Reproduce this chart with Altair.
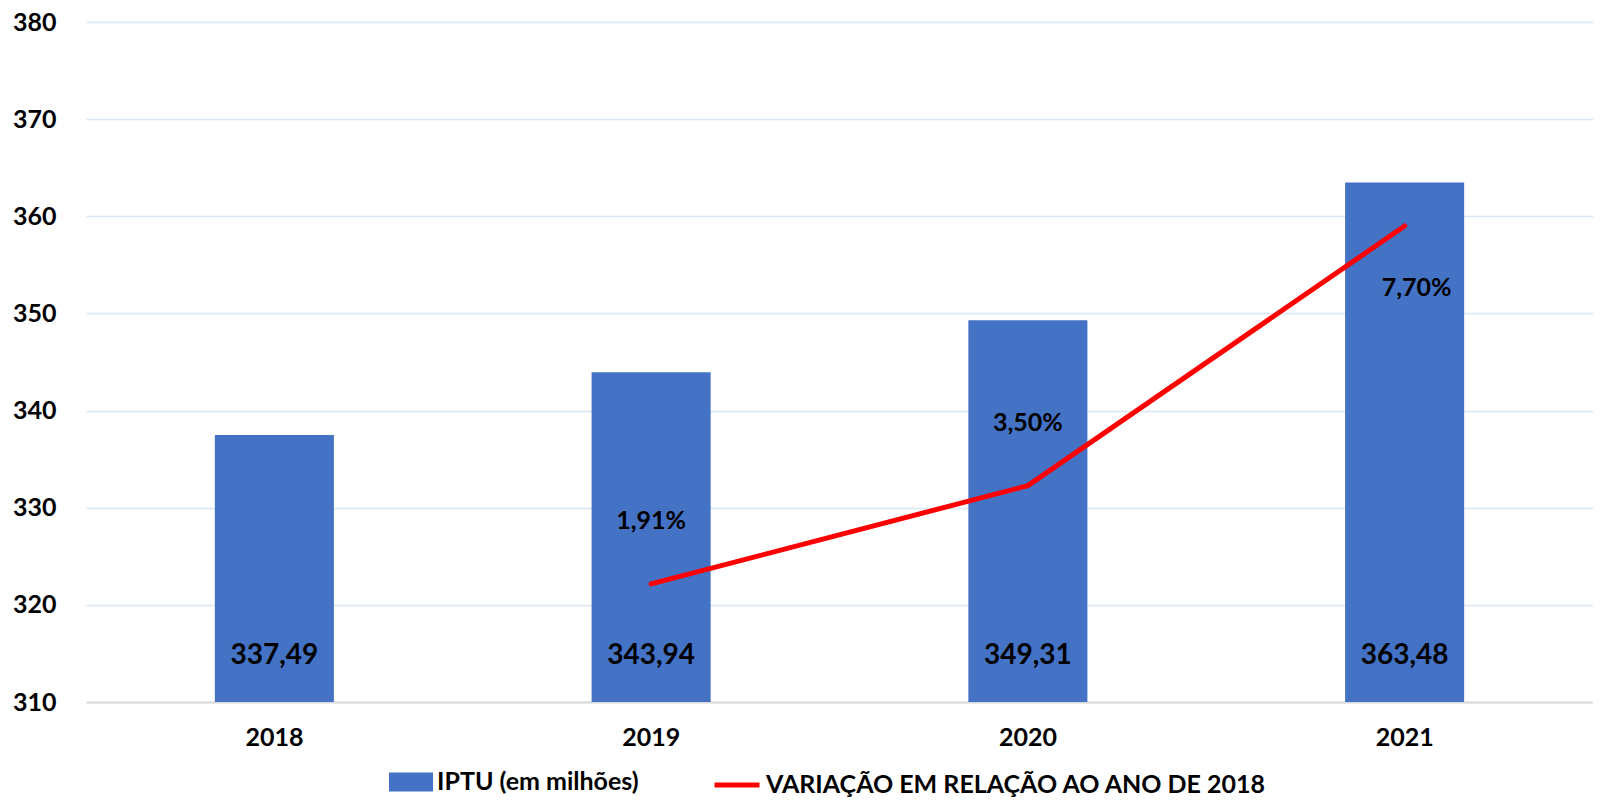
import altair as alt
import pandas as pd

years = ["2018", "2019", "2020", "2021"]
iptu = [337.49, 343.94, 349.31, 363.48]
variacao = [None, 1.91, 3.50, 7.70]
y_ticks = [310, 320, 330, 340, 350, 360, 370, 380]

bar_name = "IPTU (em milhões)"
line_name = "VARIAÇÃO EM RELAÇÃO AO ANO DE 2018"

df = pd.DataFrame({"ano": years, "iptu": iptu, "var": variacao})

FONT = "Lato"
BLUE = "#4472C4"
RED = "#FF0000"
GRID = "#dae6f3"

base = alt.Chart(df).transform_calculate(
    serie_bar=f"'{bar_name}'",
    serie_line=f"'{line_name}'",
    lbl_iptu="replace(format(datum.iptu, '.2f'), '.', ',')",
    lbl_var="isValid(datum.var) ? replace(format(datum.var, '.2f'), '.', ',') + '%' : ''",
)

x = alt.X(
    "ano:N", title=None, sort=years,
    scale=alt.Scale(paddingInner=0.684, paddingOuter=0.342),
    axis=alt.Axis(labelAngle=0, labelFont=FONT, labelFontSize=25, labelFontWeight="bold",
                  labelColor="black", labelPadding=23, ticks=False, domain=True,
                  domainColor="#d9d9d9", domainWidth=2),
)

yscale = alt.Scale(domain=[310, 380], zero=False, nice=False)

legend_common = dict(title=None, orient="none", labelFont=FONT, labelFontSize=25,
                     labelFontWeight="bold", labelColor="black", labelOffset=4,
                     labelLimit=0, padding=0)

bars = base.mark_bar().encode(
    x=x,
    y=alt.Y("iptu:Q", scale=yscale, title=None,
            axis=alt.Axis(values=y_ticks, labelFont=FONT, labelFontSize=25, labelFontWeight="bold",
                          labelColor="black", labelPadding=30, ticks=False, domain=False,
                          grid=True, gridColor=GRID, gridWidth=1.5)),
    y2=alt.datum(310),
    fill=alt.Fill("serie_bar:N", scale=alt.Scale(domain=[bar_name], range=[BLUE]),
                  legend=alt.Legend(legendX=303, legendY=738,
                                    symbolType="M-1,-0.43H1V0.43H-1Z", symbolSize=1936,
                                    symbolStrokeWidth=0, **legend_common)),
)

bar_labels = base.mark_text(font=FONT, fontSize=28, fontWeight="bold", color="black",
                            baseline="middle", dy=-46).encode(
    x=alt.X("ano:N", sort=years),
    y=alt.datum(310),
    text="lbl_iptu:N",
)

left = alt.layer(bars, bar_labels)

yscale2 = alt.Scale(domain=[0, 11], zero=True, nice=False)

line = base.mark_line(strokeWidth=5, strokeCap="round").encode(
    x=alt.X("ano:N", sort=years),
    y=alt.Y("var:Q", scale=yscale2, axis=None),
    stroke=alt.Stroke("serie_line:N", scale=alt.Scale(domain=[line_name], range=[RED]),
                      legend=alt.Legend(legendX=626, legendY=738,
                                        symbolType="stroke", symbolSize=2025,
                                        symbolStrokeWidth=5, **legend_common)),
)

lbl_up = base.transform_filter("isValid(datum.var) && datum.var < 5").mark_text(
    font=FONT, fontSize=25, fontWeight="bold", color="black", baseline="middle", dy=-63
).encode(
    x=alt.X("ano:N", sort=years),
    y=alt.Y("var:Q", scale=yscale2, axis=None),
    text="lbl_var:N",
)

lbl_down = base.transform_filter("isValid(datum.var) && datum.var >= 5").mark_text(
    font=FONT, fontSize=25, fontWeight="bold", color="black", baseline="middle", dy=62, dx=12
).encode(
    x=alt.X("ano:N", sort=years),
    y=alt.Y("var:Q", scale=yscale2, axis=None),
    text="lbl_var:N",
)

right = alt.layer(line, lbl_up, lbl_down)

chart = alt.layer(left, right).resolve_scale(y="independent").properties(
    width=1507, height=680,
    autosize=alt.AutoSizeParams(type="none"),
    padding={"left": 78, "top": 14, "right": 0, "bottom": 95},
).configure_view(stroke=None)

chart.save("out.html", embed_options={"renderer": "svg", "actions": False})
